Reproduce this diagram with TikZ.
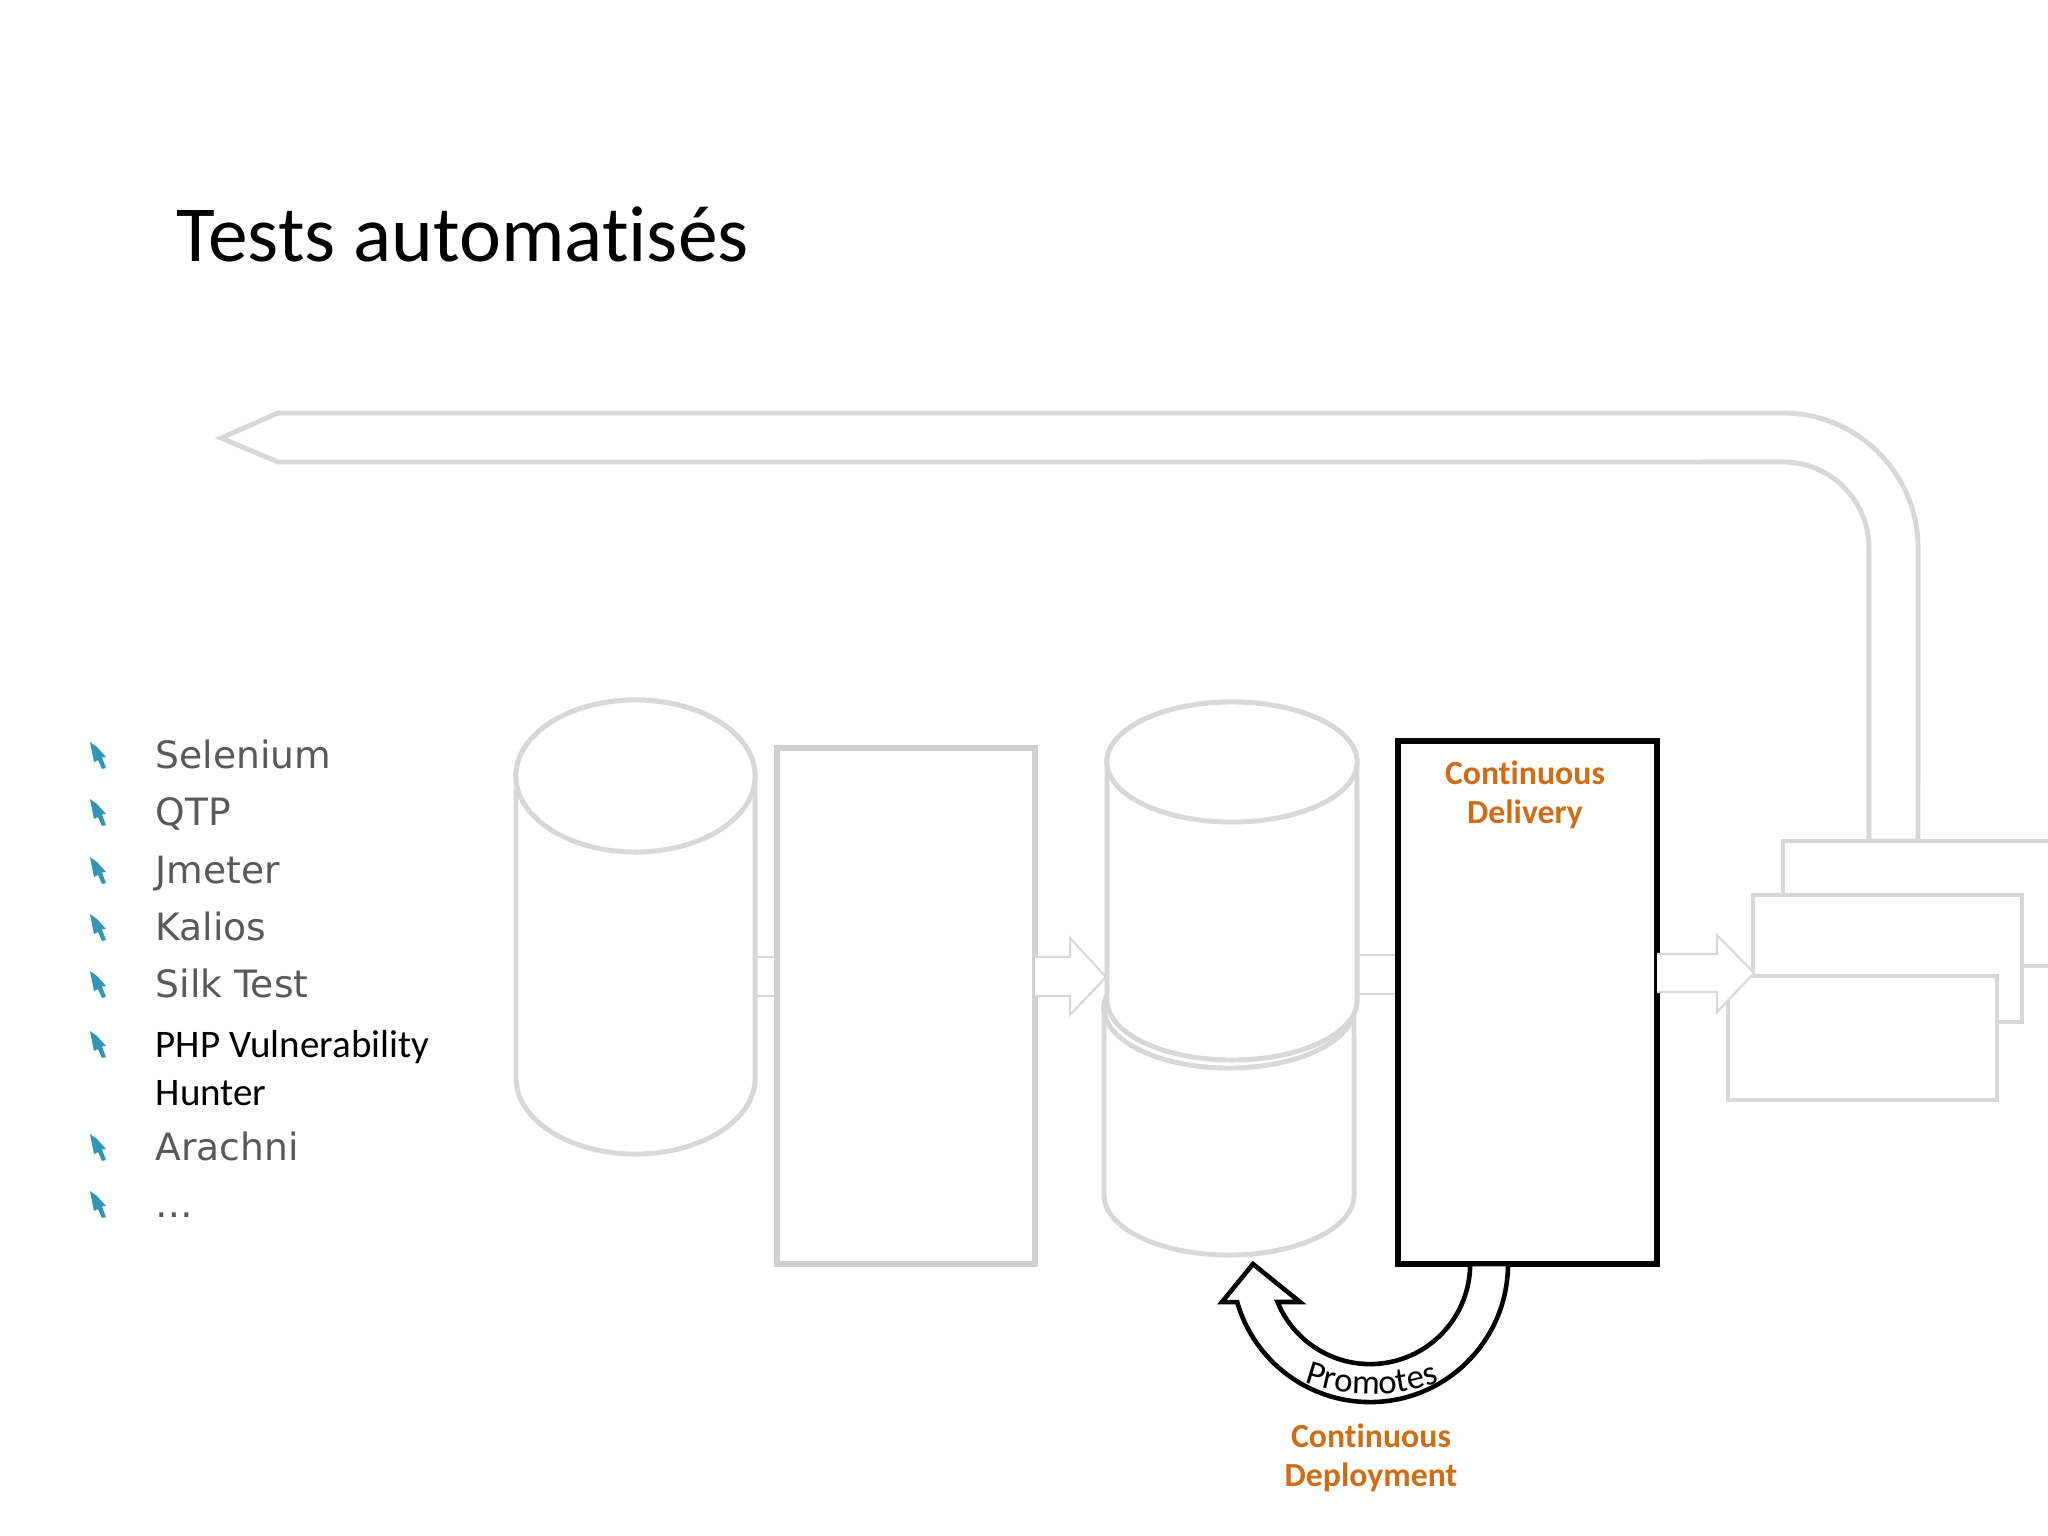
\documentclass[tikz,border=0pt]{standalone}
\usepackage{fontspec}
\setmainfont{Carlito}[Ligatures=NoCommon]
\newfontfamily\dejavu{DejaVu Sans}
\usetikzlibrary{decorations.text}
\definecolor{lgray}{RGB}{216,216,218}
\definecolor{rgray}{RGB}{208,208,210}
\definecolor{tgray}{RGB}{89,89,89}
\definecolor{orng}{RGB}{208,108,22}
\definecolor{tealb}{RGB}{52,150,180}
\begin{document}
\begin{tikzpicture}[x=0.01cm,y=-0.01cm,
  shapeline/.style={draw=lgray,line width=1.4pt,fill=white},
  thinarrow/.style={draw=lgray,line width=0.6pt,fill=white},
  thinline/.style={draw=lgray,line width=0.6pt},
  listitem/.style={anchor=base west,inner sep=0pt,font=\dejavu\fontsize{10.7}{12}\selectfont,text=tgray},
  blackitem/.style={anchor=base west,inner sep=0pt,font=\fontsize{11.1}{13}\selectfont,text=black},
  cdtext/.style={anchor=base,inner sep=0pt,font=\bfseries\fontsize{9.6}{11.2}\selectfont,text=orng},
  bulletmark/.style={fill=tealb}]
\useasboundingbox (0,0) rectangle (2048,1536);
\clip (0,0) rectangle (2048,1536);

% title
\node[anchor=base west,inner sep=0pt,font=\fontsize{22.6}{27}\selectfont] (title) at (176,261) {Tests automatisés};

% big return arrow
\draw[shapeline,line join=miter] (221,438) -- (278,413) -- (1783,413)
  arc[start angle=90,end angle=0,radius=1.35cm] -- (1918,841) -- (1869,841) -- (1869,548)
  arc[start angle=0,end angle=90,radius=0.86cm] -- (278,462) -- cycle;

% stacked boxes (right)
\draw[shapeline] (1783,841) rectangle (2070,966);
\draw[shapeline] (1753,895) rectangle (2022,1022);
\draw[shapeline] (1728,976) rectangle (1997,1100);

% left cylinder
\draw[shapeline] (516,776) -- (516,1078)
  arc[start angle=180,end angle=360,x radius=1.195cm,y radius=0.76cm] -- (755,776)
  arc[start angle=0,end angle=180,x radius=1.195cm,y radius=0.76cm] -- cycle;
\draw[shapeline] (635.5,776) ellipse[x radius=1.195cm,y radius=0.76cm];

% short link cylinder -> rectangle
\draw[thinline] (755,957) -- (777,957) (755,996) -- (777,996);

% rectangle
\draw[shapeline,draw=rgray,line width=1.5pt] (777,748) rectangle (1035,1264);

% arrow rectangle -> cylinder stack
\draw[thinarrow] (1035,957) -- (1070,957) -- (1070,938) -- (1106,977) -- (1070,1015) -- (1070,996) -- (1035,996);

% back cylinder
\draw[shapeline] (1104,1008) -- (1104,1195)
  arc[start angle=180,end angle=360,x radius=1.25cm,y radius=0.6cm] -- (1354,1008)
  arc[start angle=0,end angle=180,x radius=1.25cm,y radius=0.6cm] -- cycle;
\draw[shapeline] (1229,1008) ellipse[x radius=1.25cm,y radius=0.6cm];
% front cylinder
\draw[shapeline] (1107,762) -- (1107,1000)
  arc[start angle=180,end angle=360,x radius=1.25cm,y radius=0.6cm] -- (1357,762)
  arc[start angle=0,end angle=180,x radius=1.25cm,y radius=0.6cm] -- cycle;
\draw[shapeline] (1232,762) ellipse[x radius=1.25cm,y radius=0.6cm];

% link cylinder -> CD box
\draw[thinline] (1357,955) -- (1398,955) (1357,994) -- (1398,994);

% Continuous Delivery box
\draw[black,line width=1.5pt,fill=white] (1398,741) rectangle (1657,1264);
\node[cdtext] (cd1) at (1525,784) {Continuous};
\node[cdtext] (cd2) at (1525,823) {Delivery};

% arrow CD box -> stacked boxes
\draw[thinarrow] (1657,954) -- (1717,954) -- (1717,935) -- (1754,973) -- (1717,1012) -- (1717,992) -- (1657,992);

% Promotes curved arrow
\coordinate (pc) at (1370,1264);
\coordinate (tc) at (1372,1194);
\draw[black,line width=1.3pt,fill=white,line join=miter] (1508,1264)
  arc[start angle=0,end angle=-164,radius=1.38cm] -- (1222,1302) -- (1253,1264) -- (1300,1302) -- (1277.5,1302)
  arc[start angle=-157.7,end angle=0,radius=1cm] -- cycle;
\path[decorate,decoration={text along path,text={|\fontsize{9.9}{11}\selectfont|Promotes},text align=center}]
  (tc) ++(-118:2cm) arc[start angle=-118,end angle=-62,radius=2cm];

\node[cdtext] (cdep1) at (1371,1447) {Continuous};
\node[cdtext] (cdep2) at (1371,1486) {Deployment};

% bullets
\foreach \by in {768,825,883,940,997,1057,1160,1217}{
  \fill[bulletmark,shift={(90,\by-26)}] (0,0) -- (7,5) -- (16,15) -- (12,15.5) -- (16,26) -- (12,27) -- (8,18) -- (4,20) -- cycle;
}
\node[listitem] (i1) at (155,768) {Selenium};
\node[listitem] (i2) at (155,825) {QTP};
\node[listitem] (i3) at (155,883) {Jmeter};
\node[listitem] (i4) at (155,940) {Kalios};
\node[listitem] (i5) at (155,997) {Silk Test};
\node[blackitem] (i6) at (155,1057) {PHP Vulnerability};
\node[blackitem] (i6b) at (155,1105) {Hunter};
\node[listitem] (i7) at (155,1160) {Arachni};
\node[listitem] (i8) at (155,1217) {…};
\end{tikzpicture}
\end{document}
